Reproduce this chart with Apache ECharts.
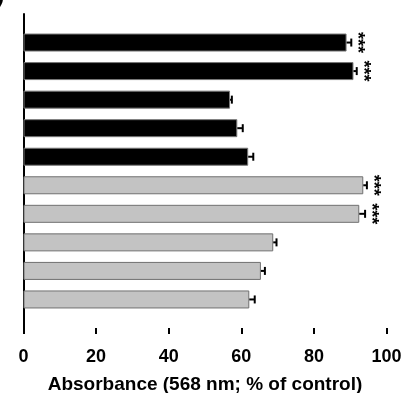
<!DOCTYPE html>
<html>
<head>
<meta charset="utf-8">
<script src="https://cdn.jsdelivr.net/npm/echarts@6/dist/echarts.min.js"></script>
<style>
  html, body { margin: 0; padding: 0; background: #fff; }
  #chart { width: 401px; height: 393px; }
</style>
</head>
<body>
<div id="chart"></div>
<script>
// bars from top to bottom
const groups = ['D1', 'D2', 'D3', 'D4', 'D5', 'L1', 'L2', 'L3', 'L4', 'L5'];
const means = [89.0, 90.9, 56.9, 58.9, 61.9, 93.6, 92.5, 68.8, 65.4, 62.2];
const errors = [1.3, 0.9, 0.5, 1.5, 1.4, 1.0, 1.6, 0.9, 1.1, 1.5];
const shade = ['dark', 'dark', 'dark', 'dark', 'dark', 'light', 'light', 'light', 'light', 'light'];
const stars = ['***', '***', '', '', '', '***', '***', '', '', ''];
const xTicks = [0, 20, 40, 60, 80, 100];

const font = '"Liberation Sans", Arial, sans-serif';
const fillOf = { dark: '#000', light: '#c3c3c3' };
const edgeOf = { dark: '#777', light: '#707070' };

// empty slot above and below the bars
const yCats = [''].concat(groups, ['']);
const barData = ['-'].concat(means.map((v, i) => ({
  value: v,
  itemStyle: { color: fillOf[shade[i]], borderColor: edgeOf[shade[i]], borderWidth: 1 }
})), ['-']);
// one-sided (upper) error bars
const errData = means.map((v, i) => [v, v + errors[i], i + 1, i]);

const chart = echarts.init(document.getElementById('chart'));
chart.setOption({
  animation: false,
  grid: { left: 23.5, right: 14.5, top: 14, bottom: 65, outerBoundsMode: 'none', containLabel: false },
  graphic: [
    { type: 'text', left: -3, top: -15, style: { text: ')', font: 'bold 22px ' + font, fill: '#000' } }
  ],
  xAxis: {
    type: 'value',
    min: xTicks[0],
    max: xTicks[xTicks.length - 1],
    interval: xTicks[1] - xTicks[0],
    name: 'Absorbance (568 nm; % of control)',
    nameLocation: 'middle',
    nameGap: 47,
    nameTextStyle: { fontFamily: font, fontWeight: 'bold', fontSize: 19, color: '#000' },
    axisLine: { lineStyle: { color: '#000', width: 2 } },
    axisTick: { show: true, length: 6, lineStyle: { color: '#000', width: 2 } },
    axisLabel: { fontFamily: font, fontWeight: 'bold', fontSize: 18, color: '#000', margin: 20 },
    splitLine: { show: false }
  },
  yAxis: {
    type: 'category',
    data: yCats,
    inverse: true,
    boundaryGap: false,
    axisLine: { lineStyle: { color: '#000', width: 2 } },
    axisTick: { show: false },
    axisLabel: { show: false },
    splitLine: { show: false }
  },
  series: [
    {
      type: 'bar',
      data: barData,
      barWidth: 18
    },
    {
      type: 'custom',
      data: errData,
      encode: { x: [0, 1], y: 2 },
      z: 5,
      renderItem: (params, api) => {
        const y = api.value(2);
        const lo = api.coord([api.value(0), y]);
        const hi = api.coord([api.value(1), y]);
        const cap = 4;
        const st = { stroke: '#000', lineWidth: 2 };
        const children = [
          { type: 'line', shape: { x1: lo[0], y1: lo[1], x2: hi[0], y2: hi[1] }, style: st },
          { type: 'line', shape: { x1: hi[0], y1: hi[1] - cap, x2: hi[0], y2: hi[1] + cap }, style: st }
        ];
        const s = stars[api.value(3)];
        if (s) {
          children.push({
            type: 'text',
            x: hi[0] + 6,
            y: hi[1],
            rotation: -Math.PI / 2,
            style: {
              text: s,
              font: 'bold 18px ' + font,
              fill: '#000',
              align: 'center',
              verticalAlign: 'middle'
            }
          });
        }
        return { type: 'group', children: children };
      }
    }
  ]
});
</script>
</body>
</html>
